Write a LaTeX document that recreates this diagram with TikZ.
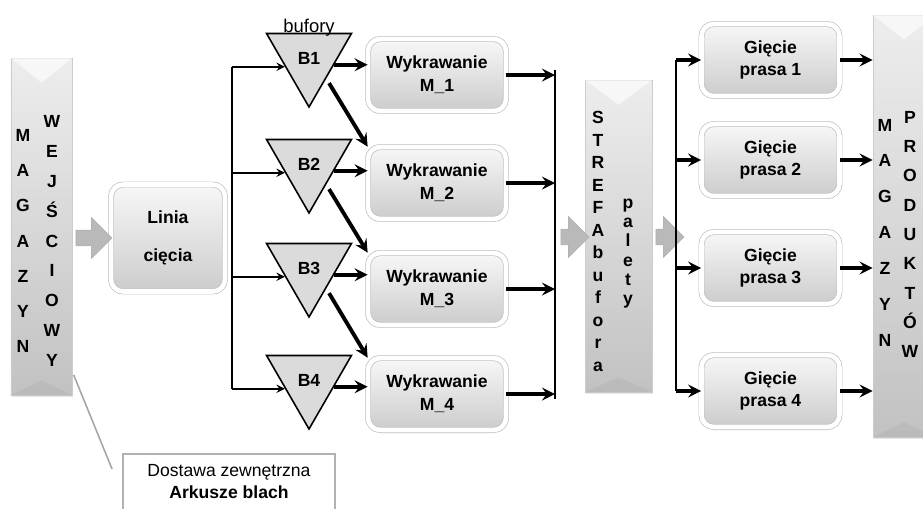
\documentclass[tikz,border=0pt]{standalone}
\usepackage{fontspec}
\setmainfont{Liberation Sans}
\usetikzlibrary{shapes}
\usetikzlibrary{shapes.geometric,shapes.arrows}
\usetikzlibrary{positioning}
\usetikzlibrary{shadows}

\begin{document}
\begin{tikzpicture}[x=0.2mm,y=-0.2mm,>=stealth,
	proc node/.style={rectangle,rounded corners=7pt,draw=gray!50,double=white,double distance=2.6pt,top color=gray!6,bottom color=gray!40,drop shadow={opacity=0.3,shadow xshift=0.5pt,shadow yshift=-1.2pt},align=center,font=\bfseries\fontsize{10}{13}\selectfont,minimum width=27.6mm,minimum height=14.4mm,inner sep=1pt},
	bar node/.style={rectangle,top color=gray!14,bottom color=gray!48,draw=gray!40,drop shadow={opacity=0.2,shadow xshift=0.6pt,shadow yshift=-1pt},inner sep=0pt},
	col node/.style={align=center,inner sep=0pt,font=\bfseries\fontsize{10}{#1}\selectfont},
	buf node/.style={regular polygon,regular polygon sides=3,shape border rotate=180,draw,line width=0.9pt,fill=gray!28,minimum size=19.6mm,inner sep=0pt,font=\bfseries\fontsize{10}{12}\selectfont},
	flow arrow/.style={single arrow,fill=gray!55,draw=gray!60,minimum width=7.4mm,inner xsep=0pt,inner ysep=1.5mm},
	thin arr/.style={->,line width=1.1pt},
	fat arr/.style={->,line width=2.2pt},
	bus/.style={line width=0.9pt}]
		
		\path[use as bounding box] (0,0) rectangle (923,508);
		\clip (0,0) rectangle (923,508);
		
		% magazyny i strefa buforowa
		\node[bar node,minimum width=12.2mm,minimum height=67.4mm] at (41.5,226.5) (mw) {};
		\node[bar node,minimum width=13.4mm,minimum height=62.4mm] at (618.5,236) (sb) {};
		\node[bar node,minimum width=12.4mm,minimum height=84.4mm] at (904,226) (mp) {};
		\foreach \n in {mw,sb,mp} {
			\fill[white,opacity=.6] (\n.north west) -- ([yshift=-5mm]\n.north) -- (\n.north east) -- cycle;
			\fill[gray!70,opacity=.25] (\n.south west) -- ([yshift=3mm]\n.south) -- (\n.south east) -- cycle;
		}
		\node[col node=20] at (23,241) (mw1) {M\\A\\G\\A\\Z\\Y\\N};
		\node[col node=17] at (52,241) (mw2) {W\\E\\J\\Ś\\C\\I\\O\\W\\Y};
		\node[col node=12.8] at (598,241.5) (sb1) {S\\T\\R\\E\\F\\A\\b\\u\\f\\o\\r\\a};
		\node[col node=11] at (628,253.5) (sb2) {p\\a\\l\\e\\t\\y};
		\node[col node=20.4] at (885,232.5) (mp1) {M\\A\\G\\A\\Z\\Y\\N};
		\node[col node=16.7] at (910,234.5) (mp2) {P\\R\\O\\D\\U\\K\\T\\Ó\\W};
		
		% bloki
		\node[proc node,minimum width=22.8mm,minimum height=21.4mm,font=\bfseries\fontsize{10}{21.6}\selectfont] at (168,238) (lc) {Linia\\cięcia};
		\node[proc node] at (437,75) (w1) {Wykrawanie\\M\_1};
		\node[proc node] at (437,183) (w2) {Wykrawanie\\M\_2};
		\node[proc node] at (437,289) (w3) {Wykrawanie\\M\_3};
		\node[proc node] at (437,394) (w4) {Wykrawanie\\M\_4};
		\node[proc node] at (770.5,60) (g1) {Gięcie\\prasa 1};
		\node[proc node] at (770.5,160) (g2) {Gięcie\\prasa 2};
		\node[proc node] at (770.5,268) (g3) {Gięcie\\prasa 3};
		\node[proc node] at (770.5,391) (g4) {Gięcie\\prasa 4};
		
		\node[buf node] at (309,58) (b1) {B1};
		\node[buf node] at (309,164) (b2) {B2};
		\node[buf node] at (309,268) (b3) {B3};
		\node[buf node] at (309,380) (b4) {B4};
		\node[above=-3pt of b1.north,inner sep=1pt,font=\fontsize{10.5}{12}\selectfont] (buf) {bufory};
		
		\node[flow arrow,minimum height=7.2mm] at (90,238) (a1) {};
		\node[flow arrow,minimum height=5.6mm] at (571,237) (a2) {};
		\node[flow arrow,minimum height=5.6mm] at (666,237) (a3) {};
		
		\node[draw=gray!60,line width=1.1pt,anchor=north,minimum width=42.4mm,inner ysep=2mm,text depth=5mm,align=center,font=\fontsize{10}{12.5}\selectfont] at (229,453) (dz) {Dostawa zewnętrzna\\\textbf{Arkusze blach}};
		\draw[gray!70,line width=0.9pt,shorten <=2pt,shorten >=15pt] (mw.-78) -- (dz.west);
		
		% polaczenia
		\coordinate (k1) at (232,0);
		\coordinate (k2) at (555,0);
		\coordinate (k3) at (676,0);
		
		\draw[bus] (k1 |- b1.200) -- (k1 |- b4.200);
		\draw[bus,shorten <=-3pt,shorten >=-3pt] (k2 |- w1.east) -- (k2 |- w4.east);
		\draw[bus] (k3 |- g1.west) -- (k3 |- g4.west);
		\foreach \i in {1,...,4} {
			\draw[thin arr] (k1 |- b\i.200) -- (b\i.200);
			\draw[fat arr] (b\i.345) -- (w\i.west |- b\i.345);
			\draw[fat arr] (w\i.east) -- (k2 |- w\i.east);
			\draw[fat arr] (k3 |- g\i.west) -- (g\i.west);
			\draw[fat arr] (g\i.east) -- (mp.west |- g\i.east);
		}
		\foreach \i/\j in {1/2,2/3,3/4}
			\draw[fat arr,shorten <=3pt] (b\i.-50) -- (w\j.north west);
		
		\end{tikzpicture}
\end{document}
